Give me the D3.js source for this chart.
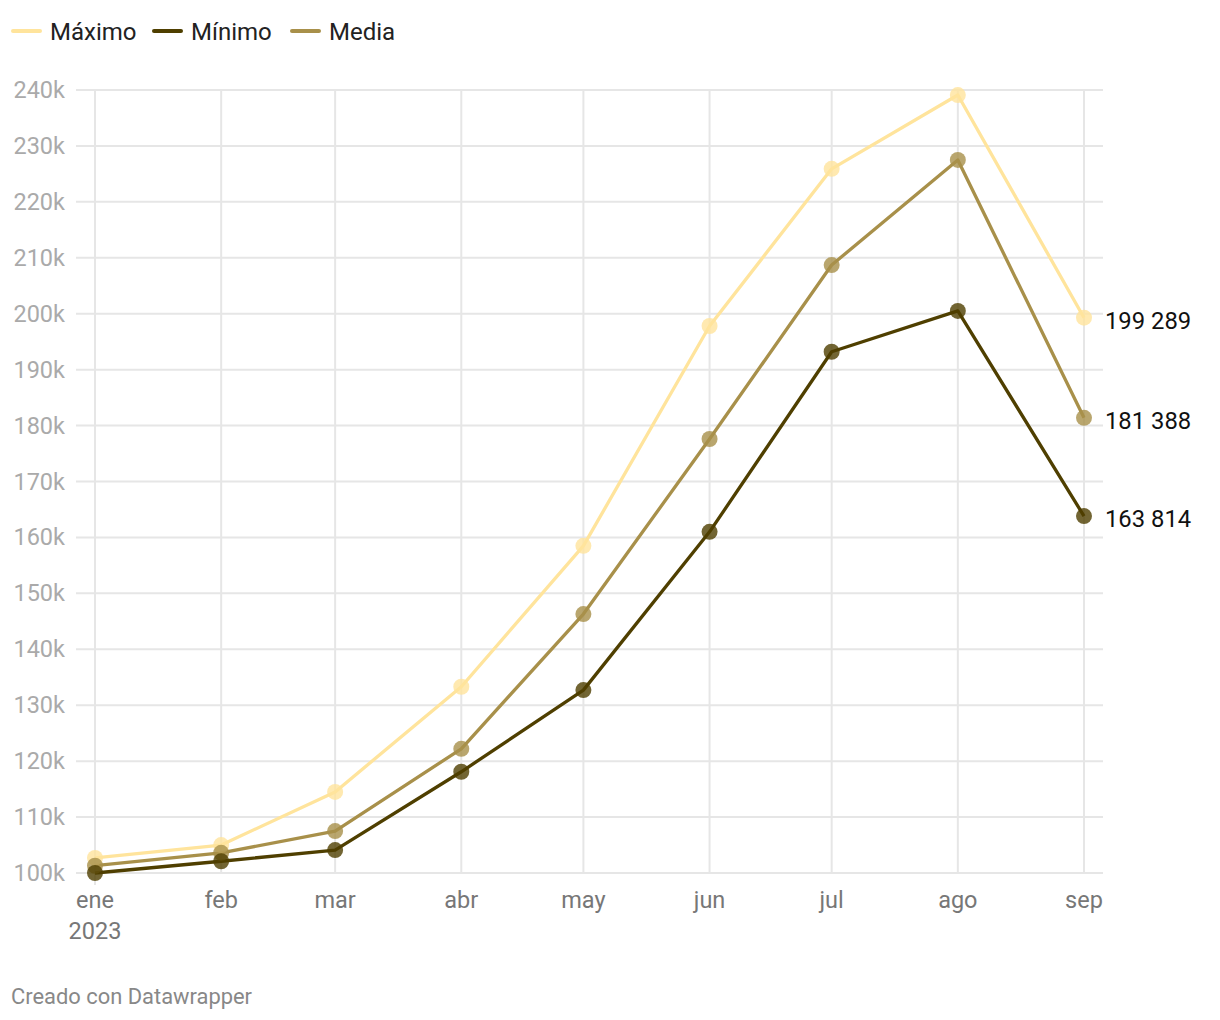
<!DOCTYPE html>
<html><head><meta charset="utf-8">
<script src="https://cdn.jsdelivr.net/npm/d3@7"></script>
<style>body{margin:0;background:#fff;font-family:Roboto,sans-serif}</style>
</head><body><svg id="c" width="1220" height="1020"></svg>
<script>
const months = ["2023-01-01","2023-02-01","2023-03-01","2023-04-01","2023-05-01","2023-06-01","2023-07-01","2023-08-01","2023-09-01"];
const monthLabels = ["ene","feb","mar","abr","may","jun","jul","ago","sep"];
const maximo = [102700,105000,114500,133300,158500,197800,225900,239100,199289];
const minimo = [100000,102100,104100,118100,132700,161000,193200,200500,163814];
const media  = [101300,103600,107500,122200,146300,177600,208700,227500,181388];
const yTicks = [100000,110000,120000,130000,140000,150000,160000,170000,180000,190000,200000,210000,220000,230000,240000];
const seriesNames = ["Máximo","Mínimo","Media"];
const colors = ["#ffe49c","#4f3f00","#a8904a"];

const svg = d3.select("#c");
const parse = d3.utcParse("%Y-%m-%d");
const dates = months.map(parse);
const x = d3.scaleUtc().domain([dates[0], dates[dates.length-1]]).range([95,1084]);
const y = d3.scaleLinear().domain([100000,240000]).range([873,90]);

// grid
svg.append("g").selectAll("line").data(yTicks).join("line")
  .attr("x1",76).attr("x2",1103).attr("y1",d=>y(d)).attr("y2",d=>y(d))
  .attr("stroke","#e6e6e6").attr("stroke-width",2);
svg.append("g").selectAll("line").data(dates).join("line")
  .attr("x1",d=>x(d)).attr("x2",d=>x(d)).attr("y1",90).attr("y2",(d,i)=>i===0?885:873)
  .attr("stroke","#e6e6e6").attr("stroke-width",2);

// y labels
svg.append("g").selectAll("text").data(yTicks).join("text")
  .attr("x",65).attr("y",d=>y(d)+8).attr("text-anchor","end")
  .attr("fill","#aaaaaa").attr("font-size",23.5)
  .text(d=>(d/1000)+"k");

// x labels
svg.append("g").selectAll("text").data(dates).join("text")
  .attr("x",d=>x(d)).attr("y",908).attr("text-anchor","middle")
  .attr("fill","#777").attr("font-size",23.5)
  .text((d,i)=>monthLabels[i]);
svg.append("text").attr("x",x(dates[0])).attr("y",939).attr("text-anchor","middle")
  .attr("fill","#777").attr("font-size",23.5).text("2023");

const data = [maximo,minimo,media];
const order = [0,2,1];
const line = d3.line().x((d,i)=>x(dates[i])).y(d=>y(d));
order.forEach(k=>{
  svg.append("path").attr("d",line(data[k])).attr("fill","none")
    .attr("stroke",colors[k]).attr("stroke-width",3.3).attr("stroke-linejoin","round");
});
order.forEach(k=>{
  svg.append("g").selectAll("circle").data(data[k]).join("circle")
    .attr("cx",(d,i)=>x(dates[i])).attr("cy",d=>y(d)).attr("r",8)
    .attr("fill",colors[k]).attr("fill-opacity",0.8);
});

// end labels
const fmt = v => d3.format(",")(v).replace(/,/g," ");
[0,2,1].forEach(k=>{
  const v = data[k][data[k].length-1];
  svg.append("text").attr("x",1105).attr("y",y(v)+11).attr("fill","#111").attr("font-size",23.8)
    .text(fmt(v));
});

// legend
const lx = [12,153,291];
seriesNames.forEach((n,i)=>{
  svg.append("line").attr("x1",lx[i]+1).attr("x2",lx[i]+28).attr("y1",31).attr("y2",31)
    .attr("stroke",colors[i]).attr("stroke-width",4).attr("stroke-linecap","round");
  svg.append("text").attr("x",lx[i]+38).attr("y",40).attr("font-size",24).attr("fill","#222").text(n);
});

svg.append("text").attr("x",11).attr("y",1004).attr("font-size",21.9).attr("fill","#888").text("Creado con Datawrapper");
</script></body></html>
